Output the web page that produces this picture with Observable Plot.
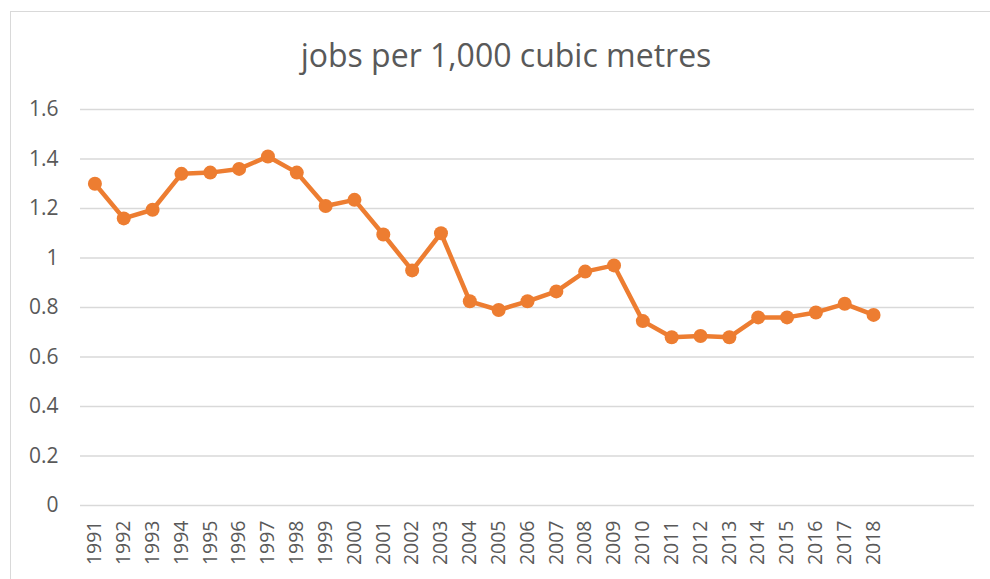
<!DOCTYPE html>
<html>
<head>
<meta charset="utf-8">
<script src="https://cdn.jsdelivr.net/npm/d3@7"></script>
<script src="https://cdn.jsdelivr.net/npm/@observablehq/plot@0.6"></script>
<style>
  html, body { margin: 0; padding: 0; background: #fff; }
  #wrap { position: relative; width: 990px; height: 579px; overflow: hidden; font-family: "Open Sans", sans-serif; }
  #frame { position: absolute; left: 10px; top: 11px; width: 990px; height: 600px; border: 1.5px solid #d9d9d9; box-sizing: border-box; }
  #title { position: absolute; left: 0; width: 1012px; top: 33px; text-align: center; font-size: 32px; color: #595959; white-space: nowrap; }
  #chart { position: absolute; left: 0; top: 0; }
</style>
</head>
<body>
<div id="wrap">
  <div id="frame"></div>
  <div id="title">jobs per 1,000 cubic metres</div>
  <div id="chart"></div>
</div>
<script>
const years = [1991,1992,1993,1994,1995,1996,1997,1998,1999,2000,2001,2002,2003,2004,2005,2006,2007,2008,2009,2010,2011,2012,2013,2014,2015,2016,2017,2018];
const jobs = [1.30,1.16,1.195,1.34,1.345,1.36,1.41,1.345,1.21,1.235,1.095,0.95,1.10,0.825,0.79,0.825,0.865,0.945,0.97,0.745,0.68,0.685,0.68,0.76,0.76,0.78,0.815,0.77];
const yTicks = [0,0.2,0.4,0.6,0.8,1,1.2,1.4,1.6];

const data = years.map((y, i) => ({year: y, value: jobs[i]}));
const color = "#ED7D31";
const grey = "#595959";

const chart = Plot.plot({
  width: 990,
  height: 579,
  marginLeft: 80,
  marginRight: 16,
  marginTop: 109,
  marginBottom: 74,
  style: {fontFamily: "'Open Sans', sans-serif", background: "transparent"},
  x: {domain: [1990.5, 2021.5], label: null, axis: null},
  y: {domain: [0, 1.6], label: null, axis: null},
  marks: [
    Plot.ruleY(yTicks, {stroke: "#d9d9d9", strokeWidth: 1.5, strokeOpacity: 1}),
    Plot.text(years, {x: d => d, y: 0, text: d => String(d), rotate: -90, textAnchor: "end", dy: 15, fill: grey, fontSize: 19.5, lineAnchor: "middle"}),
    Plot.text(yTicks, {y: d => d, text: d => String(d), frameAnchor: "left", dx: -22, textAnchor: "end", fill: grey, fontSize: 21}),
    Plot.line(data, {x: "year", y: "value", stroke: color, strokeWidth: 4.5, strokeLinejoin: "round"}),
    Plot.dot(data, {x: "year", y: "value", fill: color, r: 7})
  ]
});
document.getElementById("chart").appendChild(chart);
</script>
</body>
</html>
